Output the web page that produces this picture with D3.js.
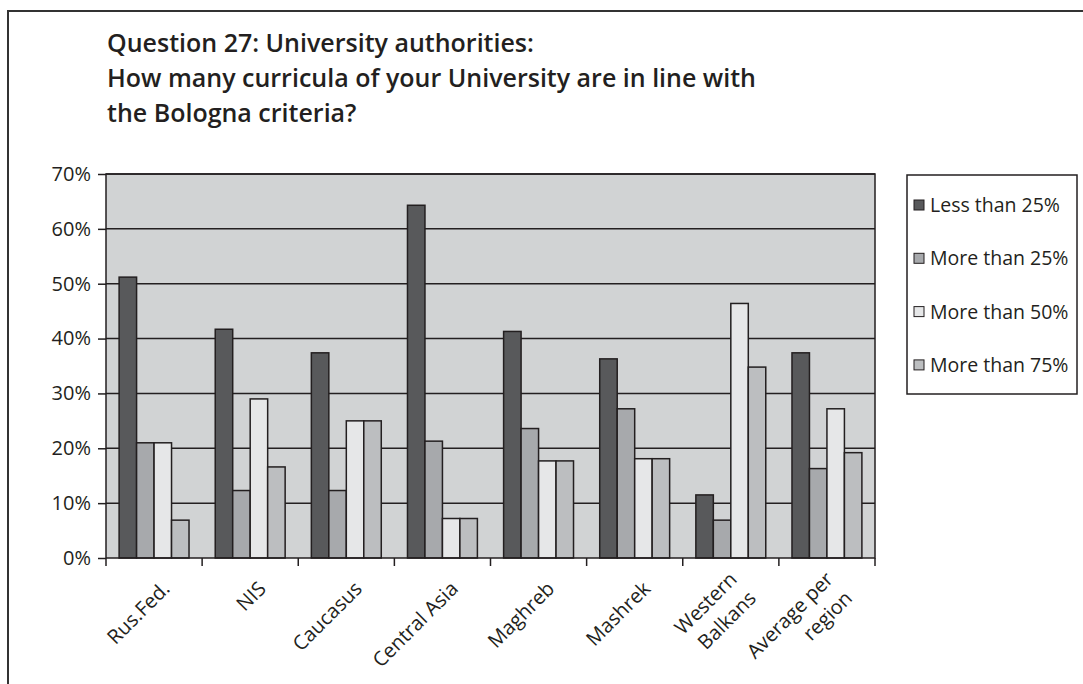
<!DOCTYPE html>
<html>
<head>
<meta charset="utf-8">
<script src="https://cdn.jsdelivr.net/npm/d3@7"></script>
<style>
  body { margin: 0; background: #fff; }
  text { font-family: "Open Sans", "DejaVu Sans", sans-serif; fill: #231f20; }
</style>
</head>
<body>
<div id="chart"></div>
<script>

// Set dimensions and margins for plot
const width = 1083;
const height = 684;
const margin = {left: 106, right: 208, top: 174, bottom: 126};

// Chart data
const regions = [["Rus.Fed."], ["NIS"], ["Caucasus"], ["Central Asia"], ["Maghreb"],
                 ["Mashrek"], ["Western", "Balkans"], ["Average per", "region"]];
const seriesNames = ["Less than 25%", "More than 25%", "More than 50%", "More than 75%"];
const lessThan25 = [51.2, 41.7, 37.4, 64.3, 41.3, 36.3, 11.5, 37.4];
const moreThan25 = [21.0, 12.3, 12.3, 21.3, 23.6, 27.2, 6.9, 16.3];
const moreThan50 = [21.0, 29.0, 25.0, 7.2, 17.7, 18.1, 46.4, 27.2];
const moreThan75 = [6.9, 16.6, 25.0, 7.2, 17.7, 18.1, 34.8, 19.2];
const yTicks = [0, 10, 20, 30, 40, 50, 60, 70];
const titleLines = ["Question 27: University authorities:",
                    "How many curricula of your University are in line with",
                    "the Bologna criteria?"];

const colors = ["#58595b", "#a7a9ac", "#e6e7e8", "#bcbec0"];
const ink = "#231f20";

const allSeries = [lessThan25, moreThan25, moreThan50, moreThan75];

const svg = d3.select("#chart")
  .append("svg")
  .attr("width", width)
  .attr("height", height);

// outer frame (top and left edges only)
svg.append("path")
  .attr("d", `M${width},11 H8 V${height}`)
  .attr("fill", "none")
  .attr("stroke", "#333")
  .attr("stroke-width", 2);

// title
svg.append("g")
  .selectAll("text")
  .data(titleLines)
  .enter()
  .append("text")
  .attr("x", 107)
  .attr("y", (d, i) => 52 + i * 35)
  .attr("font-size", "25px")
  .attr("font-weight", 600)
  .text(d => d);

/*
  Scales
*/
let yScale = d3.scaleLinear()
  .domain([0, 70])
  .range([height - margin.bottom, margin.top]);

let xScale = d3.scaleBand()
  .domain(d3.range(regions.length))
  .range([margin.left, width - margin.right])
  .padding(0);

let xInner = d3.scaleBand()
  .domain(d3.range(seriesNames.length))
  .range([0, xScale.bandwidth()])
  .paddingInner(0)
  .paddingOuter(0.75);

// plot background
svg.append("rect")
  .attr("x", margin.left)
  .attr("y", margin.top)
  .attr("width", width - margin.left - margin.right)
  .attr("height", height - margin.top - margin.bottom)
  .attr("fill", "#d1d3d4");

// gridlines
svg.append("g")
  .selectAll("line")
  .data(yTicks.slice(1))
  .enter()
  .append("line")
  .attr("x1", margin.left)
  .attr("x2", width - margin.right)
  .attr("y1", d => yScale(d))
  .attr("y2", d => yScale(d))
  .attr("stroke", ink)
  .attr("stroke-width", 1.5);

/*
  Bars
*/
const groups = svg.append("g")
  .selectAll("g")
  .data(regions)
  .enter()
  .append("g")
  .attr("transform", (d, i) => `translate(${xScale(i)},0)`);

groups.selectAll("rect")
  .data((d, i) => allSeries.map((s, j) => ({series: j, value: s[i]})))
  .enter()
  .append("rect")
  .attr("x", d => xInner(d.series))
  .attr("y", d => yScale(d.value))
  .attr("width", xInner.bandwidth())
  .attr("height", d => yScale(0) - yScale(d.value))
  .attr("fill", d => colors[d.series])
  .attr("stroke", ink)
  .attr("stroke-width", 1.5);

// plot border
svg.append("rect")
  .attr("x", margin.left)
  .attr("y", margin.top)
  .attr("width", width - margin.left - margin.right)
  .attr("height", height - margin.top - margin.bottom)
  .attr("fill", "none")
  .attr("stroke", ink)
  .attr("stroke-width", 1.5);

/*
  Axes
*/
const yAxis = svg.append("g")
  .attr("transform", `translate(${margin.left},0)`)
  .call(d3.axisLeft(yScale)
    .tickValues(yTicks)
    .tickSize(8)
    .tickPadding(7)
    .tickFormat(d => d + "%"));
yAxis.select(".domain").remove();
yAxis.selectAll("line").attr("stroke", ink).attr("stroke-width", 1.5);
yAxis.selectAll("text")
  .attr("font-size", "20px")
  .attr("font-family", "Open Sans, sans-serif")
  .attr("fill", ink);

// x ticks sit on the category boundaries
const xAxis = svg.append("g")
  .attr("transform", `translate(0,${height - margin.bottom})`);
xAxis.selectAll("line")
  .data(d3.range(regions.length + 1))
  .enter()
  .append("line")
  .attr("x1", i => i < regions.length ? xScale(i) : xScale.range()[1])
  .attr("x2", i => i < regions.length ? xScale(i) : xScale.range()[1])
  .attr("y1", 0)
  .attr("y2", 8)
  .attr("stroke", ink)
  .attr("stroke-width", 1.5);

// rotated category labels
const lineH = 27;
const labels = xAxis.selectAll("g.label")
  .data(regions)
  .enter()
  .append("g")
  .attr("class", "label")
  .attr("transform", (d, i) => `translate(${xScale(i) + xScale.bandwidth() / 2 + 17},32) rotate(-45)`);

labels.selectAll("text")
  .data(d => d.map((t, k) => ({t: t, k: k, n: d.length})))
  .enter()
  .append("text")
  .attr("text-anchor", "end")
  .attr("x", 0)
  .attr("y", d => (d.k - (d.n - 1) / 2) * lineH)
  .attr("font-size", "20px")
  .text(d => d.t);

/*
  Legend
*/
const legend = svg.append("g");
legend.append("rect")
  .attr("x", 907)
  .attr("y", 175)
  .attr("width", 170)
  .attr("height", 219)
  .attr("fill", "#fff")
  .attr("stroke", ink)
  .attr("stroke-width", 1.5);

const items = legend.selectAll("g.item")
  .data(seriesNames)
  .enter()
  .append("g")
  .attr("class", "item")
  .attr("transform", (d, i) => `translate(914,${205 + i * 53.3})`);

items.append("rect")
  .attr("x", 0)
  .attr("y", -5)
  .attr("width", 10)
  .attr("height", 10)
  .attr("fill", (d, i) => colors[i])
  .attr("stroke", ink)
  .attr("stroke-width", 1);

items.append("text")
  .attr("x", 16)
  .attr("y", 7)
  .attr("font-size", "19.5px")
  .text(d => d);

</script>
</body>
</html>
